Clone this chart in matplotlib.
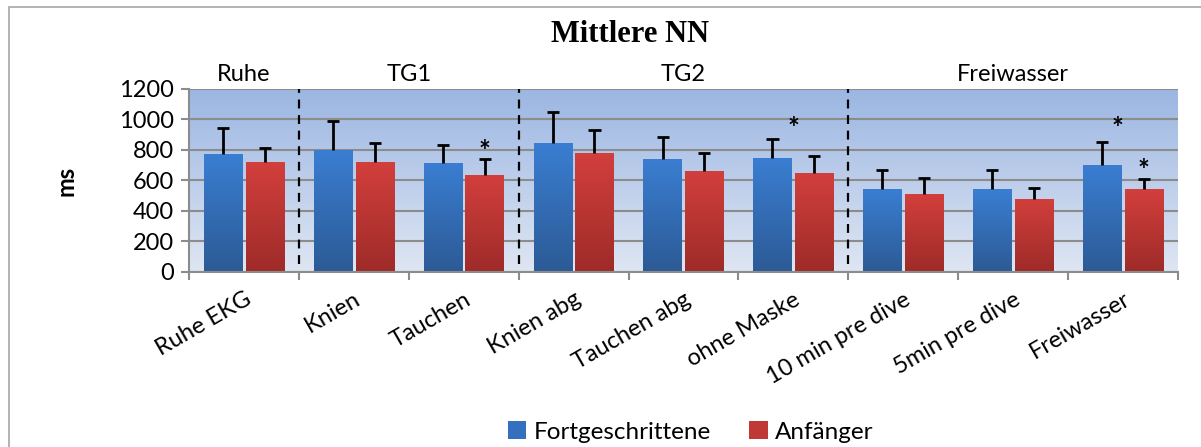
import matplotlib.pyplot as plt
import numpy as np
from matplotlib.patches import Rectangle
from matplotlib.colors import LinearSegmentedColormap

categories = ['Ruhe EKG', 'Knien', 'Tauchen', 'Knien abg', 'Tauchen abg',
              'ohne Maske', '10 min pre dive', '5min pre dive', 'Freiwasser']
fortgeschrittene = [774, 800, 715, 846, 741, 748, 544, 544, 702]
fortgeschrittene_sd = [170, 190, 120, 203, 146, 124, 123, 123, 150]
anfaenger = [721, 721, 634, 780, 662, 649, 511, 479, 544]
anfaenger_sd = [90, 125, 109, 151, 118, 114, 103, 72, 66]
series_names = ['Fortgeschrittene', 'Anfänger']

group_names = ['Ruhe', 'TG1', 'TG2', 'Freiwasser']
group_centers = [0.0, 1.5, 4.0, 7.0]
group_bounds = [0.5, 2.5, 5.5]

# significance marks (x in category units, y in ms)
star_x = [2.185, 5.0, 7.95, 8.19]
star_y = [790, 940, 940, 665]

plt.rcParams['font.family'] = ['Lato', 'DejaVu Sans']

blue_cm = LinearSegmentedColormap.from_list('b', ['#2c5a95', '#3a7ed2'])
red_cm = LinearSegmentedColormap.from_list('r', ['#9e2b29', '#d23f3c'])
bg_cm = LinearSegmentedColormap.from_list('bg', ['#dfe6f3', '#9bb6e2'])
grad = np.linspace(0, 1, 256).reshape(-1, 1)


def gradient_bars(ax, bars, cmap):
    for b in bars:
        x0, y0 = b.get_x(), b.get_y()
        w, h = b.get_width(), b.get_height()
        im = ax.imshow(grad, cmap=cmap, origin='lower', aspect='auto',
                       extent=(x0, x0 + w, y0, y0 + h), zorder=2)
        im.set_clip_path(b)
        b.set_facecolor('none')


def upper_err(ax, xs, vals, sds, cap=0.055):
    # only the upper half of the error bar, like the original
    tops = np.array(vals) + np.array(sds)
    ax.vlines(xs, vals, tops, color='black', lw=2, zorder=3)
    ax.hlines(tops, xs - cap, xs + cap, color='black', lw=2, zorder=3)


fig = plt.figure(figsize=(12.01, 4.47), dpi=100)
ax = fig.add_axes([0.1574, 0.3915, 0.8234, 0.4094])

# outer frame
fig.patches.append(Rectangle((9 / 1201, -0.1), 1.2, 1 - 7 / 447 + 0.1,
                             transform=fig.transFigure, fill=False,
                             edgecolor='#a6a6a6', lw=1.2))

x = np.arange(len(categories))
w = 0.35
off = 0.19

ax.imshow(grad, cmap=bg_cm, origin='lower', aspect='auto',
          extent=(-0.5, len(categories) - 0.5, 0, 1200), zorder=0)

b1 = ax.bar(x - off, fortgeschrittene, w, zorder=2, label=series_names[0])
b2 = ax.bar(x + off, anfaenger, w, zorder=2, label=series_names[1])
gradient_bars(ax, b1, blue_cm)
gradient_bars(ax, b2, red_cm)

upper_err(ax, x - off, fortgeschrittene, fortgeschrittene_sd)
upper_err(ax, x + off, anfaenger, anfaenger_sd)

for sx, sy in zip(star_x, star_y):
    ax.text(sx, sy, '*', ha='center', va='center', fontsize=20,
            fontweight='bold', zorder=4)

for gb in group_bounds:
    ax.plot([gb, gb], [50, 1200], ls=(0, (4, 3)), color='black', lw=1.6, zorder=3)

for gn, gc in zip(group_names, group_centers):
    ax.text(gc, 1225, gn, ha='center', va='bottom', fontsize=17)

ax.set_xlim(-0.5, len(categories) - 0.5)
ax.set_ylim(0, 1200)
ax.set_yticks(range(0, 1201, 200))
ax.yaxis.grid(True, color='#8c8c8c', lw=1.5, zorder=1)
ax.set_axisbelow(True)
ax.set_xticks(x)
ax.set_xticklabels(categories, rotation=30, ha='right', rotation_mode='anchor',
                   fontsize=17)
ax.set_xticks(np.arange(-0.5, len(categories), 1.0), minor=True)
ax.tick_params(axis='x', which='major', length=0, pad=12)
ax.tick_params(axis='x', which='minor', length=6, color='#8c8c8c', width=1.5)
ax.tick_params(axis='y', length=6, color='#8c8c8c', width=1.5, labelsize=17, pad=5)
for s in ['top', 'right']:
    ax.spines[s].set_visible(False)
for s in ['left', 'bottom']:
    ax.spines[s].set_color('#8c8c8c')
    ax.spines[s].set_linewidth(1.5)

ax.set_ylabel('ms', fontsize=17, fontweight='bold', labelpad=30)

fig.text(0.5245, 1 - 35 / 447, 'Mittlere NN', ha='center', va='center',
         fontsize=22, fontweight='bold', family='Liberation Serif')

h1 = Rectangle((0, 0), 1, 1, facecolor='#3470bd')
h2 = Rectangle((0, 0), 1, 1, facecolor='#c03936')
fig.legend([h1, h2], series_names, loc='center', bbox_to_anchor=(0.575, 1 - 432 / 447),
           ncol=2, frameon=False, fontsize=17.5, handlelength=0.75, handleheight=0.75,
           handletextpad=0.3, columnspacing=1.6)

fig.savefig('out.png', dpi=100)
